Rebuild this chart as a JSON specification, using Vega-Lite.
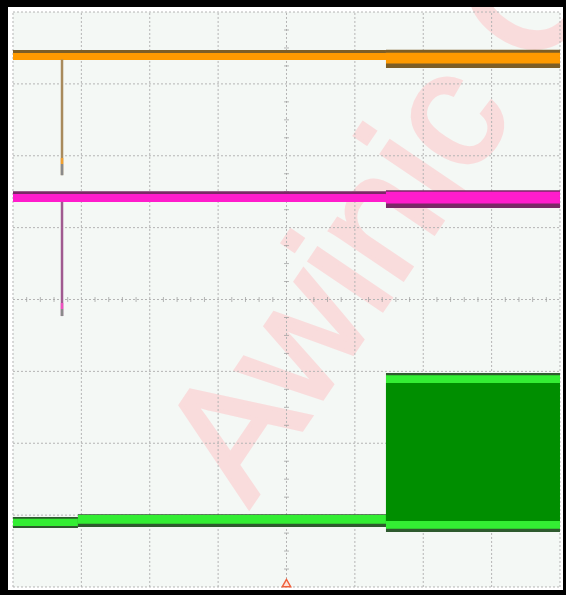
{
  "$schema": "https://vega.github.io/schema/vega-lite/v6.json",
  "width": 566,
  "height": 595,
  "autosize": {"type": "fit", "contains": "padding"},
  "padding": {"left": 8, "top": 7, "right": 3, "bottom": 5},
  "background": "#000000",
  "view": {"fill": "#ffffff", "stroke": null},
  "config": {"axis": {"disable": true}, "legend": {"disable": true}},
  "datasets": {
    "bg": [{"x0": 0, "x1": 8, "y0": 0, "y1": 8}],
    "wm": [{"x": 3.45, "y": 1.1, "label": "Awinic Confidential"}],
    "grid": [{"v": 0}, {"v": 1}, {"v": 2}, {"v": 3}, {"v": 4}, {"v": 5}, {"v": 6}, {"v": 7}, {"v": 8}],
    "xticks": [{"v": 0.2}, {"v": 0.4}, {"v": 0.6}, {"v": 0.8}, {"v": 1.2}, {"v": 1.4}, {"v": 1.6}, {"v": 1.8}, {"v": 2.2}, {"v": 2.4}, {"v": 2.6}, {"v": 2.8}, {"v": 3.2}, {"v": 3.4}, {"v": 3.6}, {"v": 3.8}, {"v": 4.2}, {"v": 4.4}, {"v": 4.6}, {"v": 4.8}, {"v": 5.2}, {"v": 5.4}, {"v": 5.6}, {"v": 5.8}, {"v": 6.2}, {"v": 6.4}, {"v": 6.6}, {"v": 6.8}, {"v": 7.2}, {"v": 7.4}, {"v": 7.6}, {"v": 7.8}],
    "yticks": [{"v": 0.25}, {"v": 0.5}, {"v": 0.75}, {"v": 1.25}, {"v": 1.5}, {"v": 1.75}, {"v": 2.25}, {"v": 2.5}, {"v": 2.75}, {"v": 3.25}, {"v": 3.5}, {"v": 3.75}, {"v": 4.25}, {"v": 4.5}, {"v": 4.75}, {"v": 5.25}, {"v": 5.5}, {"v": 5.75}, {"v": 6.25}, {"v": 6.5}, {"v": 6.75}, {"v": 7.25}, {"v": 7.5}, {"v": 7.75}],
    "bands": [
      {"part": "ch1_noise", "x0": 0, "x1": 5.455, "y0": 7.43, "y1": 7.47},
      {"part": "ch1_band", "x0": 0, "x1": 5.455, "y0": 7.332, "y1": 7.43},
      {"part": "ch1_noise", "x0": 5.455, "x1": 8, "y0": 7.221, "y1": 7.475},
      {"part": "ch1_band", "x0": 5.455, "x1": 8, "y0": 7.285, "y1": 7.435},
      {"part": "ch2_noise", "x0": 0, "x1": 5.455, "y0": 5.454, "y1": 5.505},
      {"part": "ch2_band", "x0": 0, "x1": 5.455, "y0": 5.357, "y1": 5.468},
      {"part": "ch2_noise", "x0": 5.455, "x1": 8, "y0": 5.273, "y1": 5.52},
      {"part": "ch2_band", "x0": 5.455, "x1": 8, "y0": 5.335, "y1": 5.5},
      {"part": "ch3_noise", "x0": 0, "x1": 0.95, "y0": 0.821, "y1": 0.974},
      {"part": "ch3_band", "x0": 0, "x1": 0.95, "y0": 0.849, "y1": 0.95},
      {"part": "ch3_noise", "x0": 0.95, "x1": 5.455, "y0": 0.835, "y1": 1.012},
      {"part": "ch3_band", "x0": 0.95, "x1": 5.455, "y0": 0.88, "y1": 1.002},
      {"part": "ch3_noise", "x0": 5.455, "x1": 8.0, "y0": 0.765, "y1": 2.977},
      {"part": "ch3_band", "x0": 5.455, "x1": 8.0, "y0": 0.81, "y1": 2.945},
      {"part": "ch3_fill", "x0": 5.455, "x1": 8.0, "y0": 0.918, "y1": 2.838}
    ],
    "spikes": [
      {"part": "ch1_spike", "x": 0.717, "y0": 5.73, "y1": 7.34},
      {"part": "ch1_tip", "x": 0.717, "y0": 5.885, "y1": 5.97},
      {"part": "grey_tip", "x": 0.717, "y0": 5.73, "y1": 5.885},
      {"part": "ch2_spike", "x": 0.717, "y0": 3.77, "y1": 5.36},
      {"part": "ch2_tip", "x": 0.717, "y0": 3.868, "y1": 3.951},
      {"part": "grey_tip", "x": 0.717, "y0": 3.77, "y1": 3.868}
    ],
    "marker": [{"x": 4, "y": 0.055}]
  },
  "layer": [
    {
      "data": {"name": "bg"},
      "mark": {"type": "rect", "color": "#f4f8f5"},
      "encoding": {
        "x": {"field": "x0", "type": "quantitative", "scale": {"domain": [-0.073, 8.044], "nice": false, "zero": false}},
        "x2": {"field": "x1"},
        "y": {"field": "y0", "type": "quantitative", "scale": {"domain": [-0.042, 8.07], "nice": false, "zero": false}},
        "y2": {"field": "y1"}
      }
    },
    {
      "data": {"name": "wm"},
      "mark": {"type": "text", "clip": true, "angle": -56, "align": "left", "baseline": "alphabetic", "font": "Liberation Sans", "fontWeight": "normal", "fontSize": 166, "fill": "#f9dcdc", "stroke": "#f9dcdc", "strokeWidth": 4, "strokeJoin": "miter"},
      "encoding": {
        "x": {"field": "x", "type": "quantitative"},
        "y": {"field": "y", "type": "quantitative"},
        "text": {"field": "label"}
      }
    },
    {
      "data": {"name": "grid"},
      "mark": {"type": "rule", "color": "#b4b4b4", "strokeWidth": 1, "strokeDash": [2, 2]},
      "encoding": {
        "x": {"field": "v", "type": "quantitative"},
        "y": {"datum": 0, "type": "quantitative"},
        "y2": {"datum": 8}
      }
    },
    {
      "data": {"name": "grid"},
      "mark": {"type": "rule", "color": "#b4b4b4", "strokeWidth": 1, "strokeDash": [2, 2]},
      "encoding": {
        "y": {"field": "v", "type": "quantitative"},
        "x": {"datum": 0, "type": "quantitative"},
        "x2": {"datum": 8}
      }
    },
    {
      "data": {"name": "xticks"},
      "mark": {"type": "tick", "orient": "vertical", "size": 5, "thickness": 1, "color": "#9a9a9a"},
      "encoding": {
        "x": {"field": "v", "type": "quantitative"},
        "y": {"datum": 4, "type": "quantitative"}
      }
    },
    {
      "data": {"name": "yticks"},
      "mark": {"type": "tick", "orient": "horizontal", "size": 5, "thickness": 1, "color": "#9a9a9a"},
      "encoding": {
        "y": {"field": "v", "type": "quantitative"},
        "x": {"datum": 4, "type": "quantitative"}
      }
    },
    {
      "data": {"name": "bands"},
      "mark": {"type": "rect"},
      "encoding": {
        "x": {"field": "x0", "type": "quantitative"},
        "x2": {"field": "x1"},
        "y": {"field": "y0", "type": "quantitative"},
        "y2": {"field": "y1"},
        "color": {"field": "part", "type": "nominal", "scale": {"domain": ["ch1_noise", "ch1_band", "ch2_noise", "ch2_band", "ch3_noise", "ch3_band", "ch3_fill", "ch1_spike", "ch1_tip", "ch2_spike", "ch2_tip", "grey_tip"], "range": ["#7d5e26", "#ff9a00", "#7a2866", "#ff1ccc", "#2e5a2e", "#33ee33", "#008e00", "#a88a5c", "#f0a030", "#a05a90", "#f050c0", "#8a8a8a"]}}
      }
    },
    {
      "data": {"name": "spikes"},
      "mark": {"type": "rule", "strokeWidth": 2.5},
      "encoding": {
        "x": {"field": "x", "type": "quantitative"},
        "y": {"field": "y0", "type": "quantitative"},
        "y2": {"field": "y1"},
        "color": {"field": "part", "type": "nominal", "scale": {"domain": ["ch1_noise", "ch1_band", "ch2_noise", "ch2_band", "ch3_noise", "ch3_band", "ch3_fill", "ch1_spike", "ch1_tip", "ch2_spike", "ch2_tip", "grey_tip"], "range": ["#7d5e26", "#ff9a00", "#7a2866", "#ff1ccc", "#2e5a2e", "#33ee33", "#008e00", "#a88a5c", "#f0a030", "#a05a90", "#f050c0", "#8a8a8a"]}}
      }
    },
    {
      "data": {"name": "marker"},
      "mark": {"type": "point", "shape": "triangle-up", "filled": true, "fill": "#fde2d8", "stroke": "#f0603c", "strokeWidth": 1.5, "size": 70, "opacity": 1},
      "encoding": {
        "x": {"field": "x", "type": "quantitative"},
        "y": {"field": "y", "type": "quantitative"}
      }
    }
  ]
}
